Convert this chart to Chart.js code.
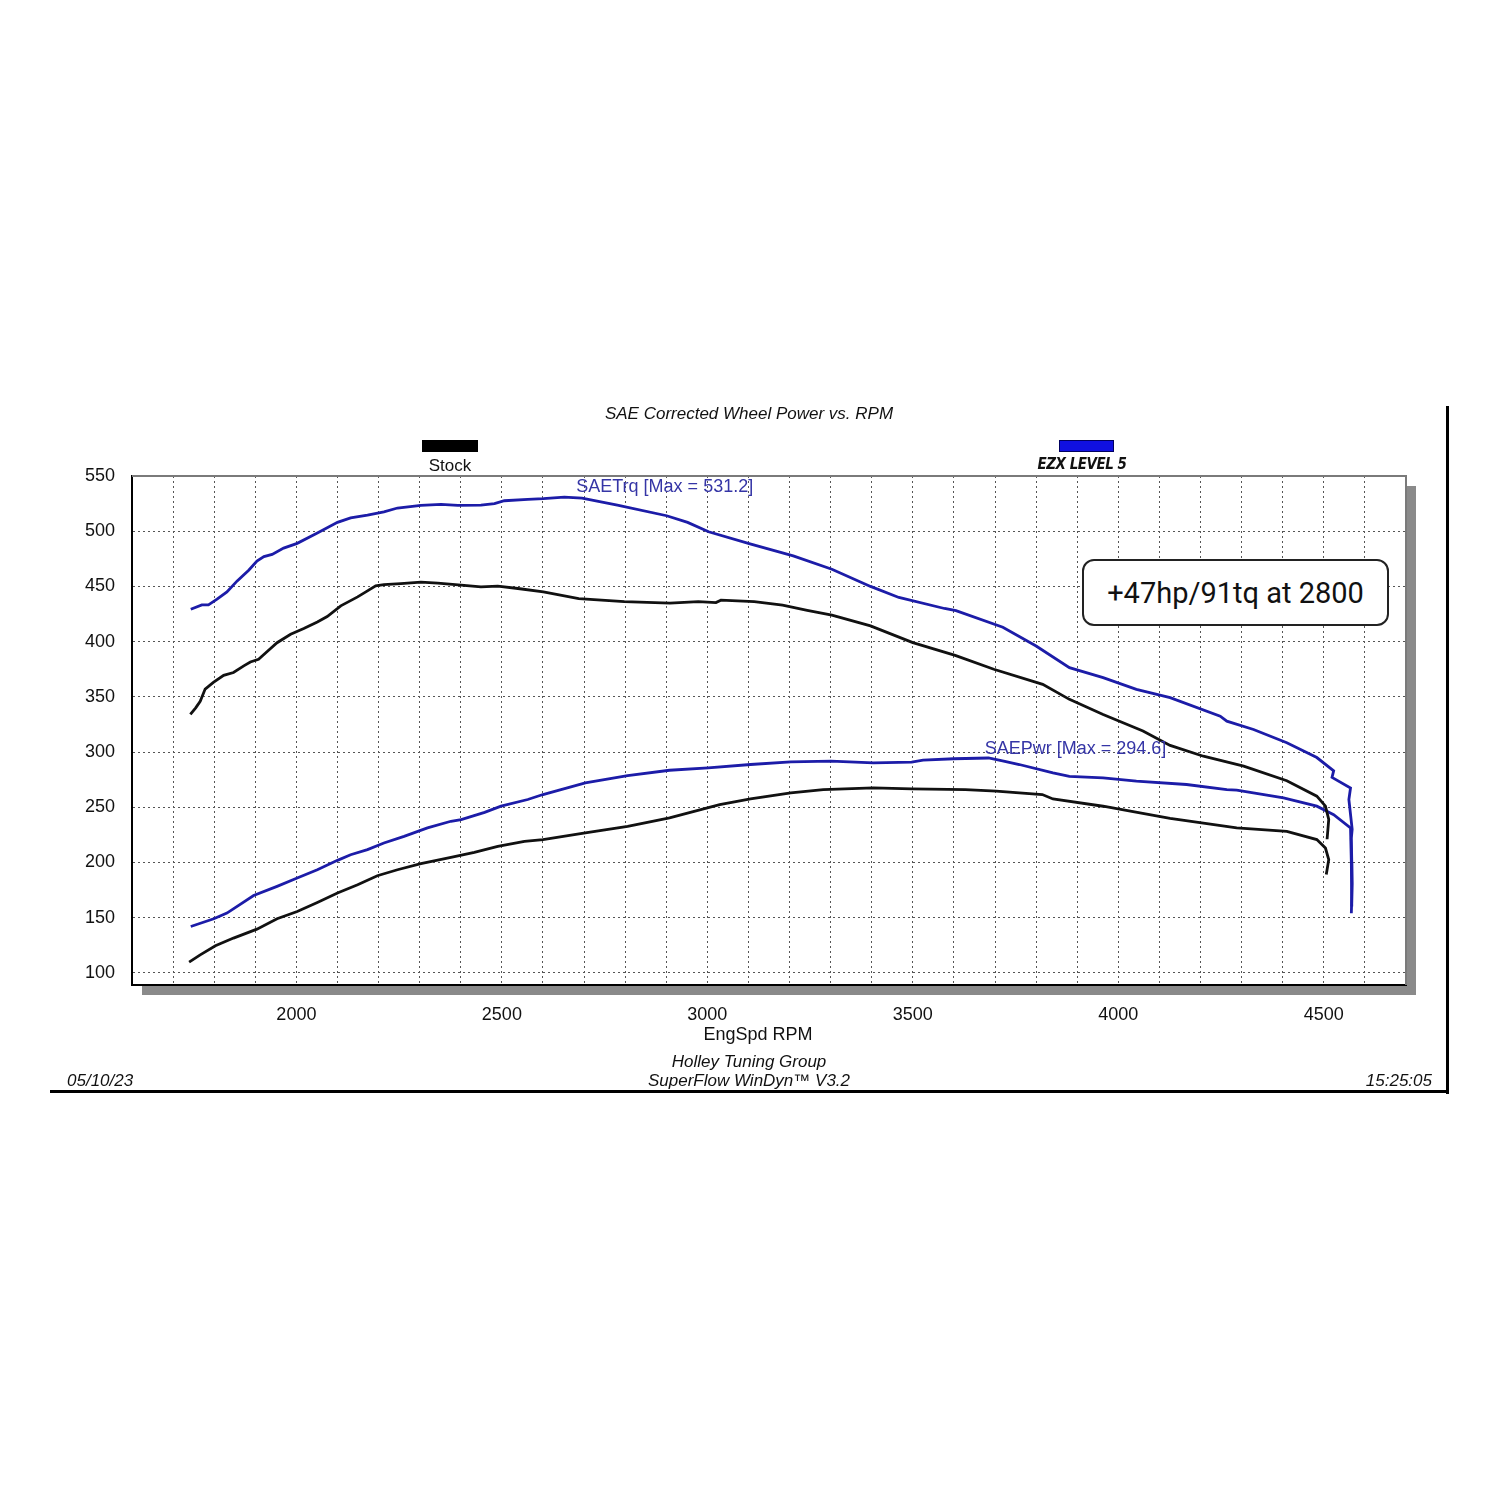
<!DOCTYPE html>
<html>
<head>
<meta charset="utf-8">
<script src="https://cdn.jsdelivr.net/npm/chart.js@4.4.1/dist/chart.umd.min.js"></script>
<style>
  body { margin: 0; background: #fff; }
  #wrap { position: relative; width: 1500px; height: 1500px; font-family: "Liberation Sans", Arial, sans-serif; }
  #chart { position: absolute; left: 0; top: 0; }
  .txt { position: absolute; white-space: nowrap; color: #111; line-height: 1; }
  .center { transform: translateX(-50%); }
  .right { transform: translateX(-100%); }
  .it { font-style: italic; }
</style>
</head>
<body>
<div id="wrap">
  <canvas id="chart" width="1500" height="1500"></canvas>

  <div class="txt center it" style="left:749px; top:405px; font-size:17px;">SAE Corrected Wheel Power vs. RPM</div>

  <!-- legend -->
  <div style="position:absolute; left:422px; top:440px; width:56px; height:12px; background:#000;"></div>
  <div class="txt center" style="left:450px; top:457px; font-size:17px;">Stock</div>
  <div style="position:absolute; left:1059px; top:440px; width:55px; height:12px; background:#1010e0; box-shadow: inset 0 0 0 1px #000060;"></div>
  <div class="txt center it" style="left:1082px; top:457px; font-size:15px; font-weight:bold; font-family:'DejaVu Sans Condensed','DejaVu Sans',sans-serif; letter-spacing:-0.5px;">EZX LEVEL 5</div>

  <!-- annotation box -->
  <div style="position:absolute; left:1082px; top:559px; width:303px; height:63px; border:2px solid #222; border-radius:12px; background:#fff; display:flex; align-items:center; justify-content:center; font-family:Roboto, sans-serif; font-size:29px; color:#111;">+47hp/91tq at 2800</div>

  <!-- footer -->
  <div class="txt center" style="left:758px; top:1025px; font-size:18px;">EngSpd RPM</div>
  <div class="txt center it" style="left:749px; top:1053px; font-size:17px;">Holley Tuning Group</div>
  <div class="txt center it" style="left:749px; top:1072px; font-size:17px;">SuperFlow WinDyn™ V3.2</div>
  <div class="txt it" style="left:67px; top:1072px; font-size:17px;">05/10/23</div>
  <div class="txt right it" style="left:1432px; top:1072px; font-size:17px;">15:25:05</div>

  <!-- outer frame -->
  <div style="position:absolute; left:1446px; top:406px; width:3px; height:688px; background:#000;"></div>
  <div style="position:absolute; left:50px; top:1090px; width:1399px; height:3px; background:#000;"></div>
</div>

<script>
// axis ticks
const yTicks = [100, 150, 200, 250, 300, 350, 400, 450, 500, 550];
const xTickLabels = [2000, 2500, 3000, 3500, 4000, 4500];

// Stock torque (black)
const stockTqRpm = [1742, 1755, 1766, 1778, 1798, 1823, 1847, 1872, 1888, 1908, 1929, 1953, 1986, 2018, 2051, 2075, 2108, 2149, 2173, 2193, 2213, 2254, 2303, 2344, 2401, 2449, 2490, 2539, 2601, 2687, 2798, 2909, 2978, 3021, 3033, 3114, 3183, 3243, 3303, 3397, 3500, 3603, 3697, 3816, 3881, 3963, 4060, 4126, 4207, 4305, 4410, 4483, 4504, 4512, 4508];
const stockTq = [334, 340, 346, 357, 363, 369.5, 372, 378, 381.5, 384, 391, 399, 406.7, 411.8, 417.8, 422.7, 432.4, 440.5, 446, 450.5, 451.7, 452.6, 453.8, 452.9, 451.1, 449.6, 450.2, 448.1, 445, 439, 436.3, 434.8, 436.3, 435.4, 437.5, 436.3, 433, 428.4, 423.9, 414.2, 399.1, 387.6, 375, 361.3, 347.7, 334, 319, 306, 296.2, 287.2, 274, 260, 251, 239, 221];

// Stock power (black)
const stockHpRpm = [1739, 1766, 1803, 1847, 1904, 1953, 2002, 2051, 2100, 2149, 2197, 2246, 2303, 2376, 2433, 2490, 2555, 2600, 2703, 2806, 2908, 3030, 3105, 3203, 3282, 3404, 3497, 3628, 3703, 3815, 3841, 3963, 4036, 4126, 4288, 4410, 4483, 4504, 4512, 4506];
const stockHp = [109.7, 116.3, 124.5, 131.5, 139.6, 149, 155.6, 163.8, 172.3, 179.8, 188, 193.4, 198.9, 204.5, 209.1, 214.5, 219.1, 220.6, 226.7, 232.7, 240.3, 252.4, 257.5, 263, 266, 267.5, 266.6, 266, 264.5, 261.5, 257.5, 250.9, 246, 240, 231.3, 228.2, 220.7, 213, 202.5, 189];

// EZX Level 5 torque (blue)
const ezxTqRpm = [1743, 1770, 1786, 1807, 1831, 1856, 1884, 1904, 1921, 1941, 1969, 2002, 2051, 2100, 2132, 2173, 2213, 2246, 2303, 2352, 2393, 2449, 2482, 2506, 2563, 2601, 2652, 2695, 2781, 2901, 2952, 3003, 3106, 3209, 3303, 3397, 3466, 3577, 3605, 3719, 3800, 3881, 3963, 4044, 4126, 4248, 4264, 4329, 4410, 4483, 4524, 4520, 4565, 4561, 4569, 4567, 4569, 4567];
const ezxTq = [429.3, 433.3, 433.3, 438.4, 445, 455, 464.7, 473, 477, 479, 484.7, 489, 498.3, 508, 512, 514.6, 517.6, 521, 523.4, 524.3, 523.4, 523.7, 524.9, 527.6, 528.9, 529.5, 530.8, 530, 523.7, 514, 508, 499.5, 488.3, 477.7, 465.6, 450, 440, 430, 428, 413, 396, 376.4, 367.4, 356.7, 349.2, 332.5, 328, 320.4, 308.4, 295, 283, 277, 267.5, 257, 230, 222, 181, 154];

// EZX Level 5 power (blue)
const ezxHpRpm = [1743, 1799, 1831, 1896, 1953, 2002, 2051, 2100, 2132, 2173, 2213, 2262, 2319, 2376, 2401, 2458, 2498, 2563, 2600, 2703, 2806, 2908, 3002, 3105, 3203, 3301, 3404, 3497, 3525, 3600, 3684, 3721, 3759, 3841, 3881, 3963, 4044, 4166, 4264, 4288, 4402, 4483, 4524, 4565, 4567, 4568];
const ezxHp = [142, 149, 154.1, 170, 178.3, 185.9, 193.4, 201.9, 207, 211.6, 217.6, 223.6, 231.3, 237.3, 238.8, 245.4, 251, 257, 261.5, 272.1, 278.7, 283.5, 285.7, 288.7, 291.1, 291.7, 290.2, 290.8, 292.6, 293.9, 294.6, 291.7, 288.7, 281.2, 278, 276.6, 273.6, 270.6, 266, 265.5, 258.5, 251, 243.3, 231.3, 200, 160];

const toPoints = (xs, ys) => xs.map((x, i) => ({ x: x, y: ys[i] }));

const black = '#111111';
const blue = '#1c1ca8';

// gray drop shadow + gray top/right border of the plot
const plotFrame = {
  id: 'plotFrame',
  beforeDraw(chart) {
    const { ctx, chartArea: a } = chart;
    ctx.save();
    ctx.fillStyle = '#8a8a8a';
    ctx.fillRect(a.left + 10, a.bottom, a.width, 10);
    ctx.fillRect(a.right, a.top + 10, 10, a.height);
    ctx.fillStyle = '#ffffff';
    ctx.fillRect(a.left, a.top, a.width, a.height);
    ctx.restore();
  },
  beforeDatasetsDraw(chart) {
    const { ctx, chartArea: a } = chart;
    ctx.save();
    ctx.strokeStyle = '#7a7a7a';
    ctx.lineWidth = 2;
    ctx.beginPath();
    ctx.moveTo(a.left, a.top);
    ctx.lineTo(a.right, a.top);
    ctx.lineTo(a.right, a.bottom);
    ctx.stroke();
    ctx.restore();
  }
};

// curve names written next to the blue curves
const curveLabels = {
  id: 'curveLabels',
  afterDatasetsDraw(chart) {
    const { ctx, scales } = chart;
    ctx.save();
    ctx.fillStyle = '#3535a6';
    ctx.font = '18px "Liberation Sans", Arial, sans-serif';
    ctx.textBaseline = 'middle';
    ctx.fillText('SAETrq [Max = 531.2]', scales.x.getPixelForValue(2681), scales.y.getPixelForValue(540));
    ctx.fillText('SAEPwr [Max = 294.6]', scales.x.getPixelForValue(3675), scales.y.getPixelForValue(303));
    ctx.restore();
  }
};

const tickFont = { family: '"Liberation Sans", Arial, sans-serif', size: 18 };

new Chart(document.getElementById('chart'), {
  type: 'line',
  data: {
    datasets: [
      { label: 'Stock SAETrq', data: toPoints(stockTqRpm, stockTq), borderColor: black },
      { label: 'Stock SAEPwr', data: toPoints(stockHpRpm, stockHp), borderColor: black },
      { label: 'EZX SAETrq', data: toPoints(ezxTqRpm, ezxTq), borderColor: blue },
      { label: 'EZX SAEPwr', data: toPoints(ezxHpRpm, ezxHp), borderColor: blue }
    ]
  },
  options: {
    responsive: false,
    animation: false,
    layout: { padding: { left: 0, top: 476, right: 94, bottom: 0 } },
    elements: {
      point: { radius: 0 },
      line: { borderWidth: 2.8, tension: 0, fill: false }
    },
    plugins: {
      legend: { display: false },
      tooltip: { enabled: false }
    },
    scales: {
      x: {
        type: 'linear',
        min: 1600,
        max: 4700,
        afterFit: scale => { scale.height = 515; },
        ticks: {
          stepSize: 100,
          autoSkip: false,
          maxRotation: 0,
          padding: 19,
          color: '#111',
          font: tickFont,
          callback: v => (xTickLabels.includes(v) ? String(v) : '')
        },
        grid: { color: '#555', lineWidth: 1, drawTicks: false },
        border: { color: '#000', width: 2, dash: [2, 3] }
      },
      y: {
        min: 89,
        max: 550,
        afterFit: scale => { scale.width = 132; },
        afterBuildTicks: scale => { scale.ticks = yTicks.map(v => ({ value: v })); },
        ticks: { padding: 17, color: '#111', font: tickFont },
        grid: { color: '#555', lineWidth: 1, drawTicks: false },
        border: { color: '#000', width: 2, dash: [2, 3] }
      }
    }
  },
  plugins: [plotFrame, curveLabels]
});
</script>
</body>
</html>
